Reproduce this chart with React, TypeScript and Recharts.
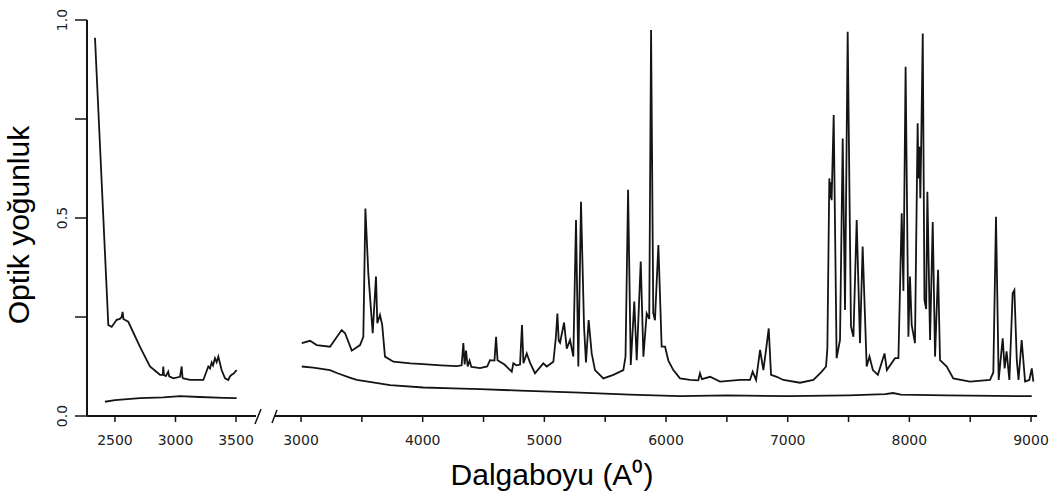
import { LineChart, Line, XAxis, YAxis } from 'recharts'

// left panel (2400-3500 A)
const leftUpperWl = [2335, 2445, 2473, 2514, 2540, 2555, 2563, 2570, 2580, 2610, 2706, 2789, 2872, 2895, 2899, 2905, 2921, 2940, 2948, 2982, 3037, 3051, 3058, 3065, 3120, 3230, 3271, 3285, 3299, 3310, 3326, 3340, 3354, 3381, 3409, 3436, 3450, 3464, 3480, 3505]
const leftUpperOd = [0.955, 0.23, 0.225, 0.243, 0.245, 0.25, 0.263, 0.245, 0.243, 0.238, 0.175, 0.125, 0.104, 0.104, 0.125, 0.103, 0.101, 0.112, 0.1, 0.095, 0.099, 0.125, 0.097, 0.095, 0.091, 0.091, 0.125, 0.12, 0.135, 0.128, 0.146, 0.136, 0.15, 0.116, 0.095, 0.091, 0.1, 0.104, 0.107, 0.116]
const leftLowerWl = [2417, 2500, 2706, 2900, 3037, 3200, 3400, 3505]
const leftLowerOd = [0.036, 0.04, 0.045, 0.047, 0.05, 0.048, 0.046, 0.045]

// right panel (3000-9000 A)
const rightUpperWl = [
  3006, 3074, 3129, 3238, 3334, 3362, 3417, 3485, 3512, 3529, 3553, 3589, 3616, 3627, 3649, 3667, 3690, 3759, 3900, 4005,
  4150, 4280, 4320, 4334, 4345, 4356, 4370, 4385, 4400, 4430, 4471, 4530, 4553, 4590, 4603, 4615, 4672, 4732, 4745, 4770,
  4800, 4816, 4828, 4855, 4882, 4923, 4991, 5019, 5074, 5095, 5107, 5118, 5129, 5162, 5184, 5211, 5238, 5260, 5279, 5301,
  5326, 5342, 5364, 5389, 5416, 5485, 5567, 5649, 5667, 5688, 5710, 5739, 5759, 5792, 5814, 5841, 5862, 5877, 5895, 5909,
  5937, 5964, 5992, 6019, 6060, 6115, 6197, 6265, 6279, 6295, 6362, 6444, 6608, 6690, 6712, 6740, 6773, 6800, 6822, 6844,
  6863, 6910, 6964, 7101, 7211, 7280, 7315, 7326, 7342, 7350, 7356, 7361, 7378, 7402, 7430, 7452, 7471, 7493, 7520, 7540,
  7567, 7594, 7616, 7649, 7672, 7700, 7741, 7796, 7815, 7882, 7910, 7937, 7951, 7969, 7992, 8005, 8019, 8046, 8068, 8075,
  8083, 8090, 8096, 8110, 8124, 8138, 8148, 8170, 8192, 8211, 8236, 8252, 8307, 8361, 8498, 8663, 8690, 8712, 8734, 8767,
  8783, 8799, 8822, 8849, 8863, 8883, 8897, 8923, 8951, 8986, 9006, 9019
]
const rightUpperOd = [
  0.184, 0.19, 0.179, 0.175, 0.217, 0.209, 0.165, 0.179, 0.2, 0.524, 0.36, 0.209, 0.352, 0.234, 0.255, 0.23, 0.15, 0.137, 0.133, 0.131,
  0.128, 0.126, 0.128, 0.184, 0.13, 0.165, 0.125, 0.14, 0.124, 0.123, 0.121, 0.125, 0.141, 0.14, 0.2, 0.141, 0.13, 0.112, 0.133, 0.128,
  0.13, 0.23, 0.133, 0.158, 0.135, 0.108, 0.133, 0.125, 0.137, 0.2, 0.259, 0.19, 0.185, 0.236, 0.17, 0.192, 0.15, 0.495, 0.125, 0.541,
  0.226, 0.135, 0.242, 0.158, 0.116, 0.095, 0.104, 0.116, 0.15, 0.571, 0.129, 0.289, 0.141, 0.39, 0.15, 0.259, 0.245, 0.975, 0.26, 0.242,
  0.432, 0.175, 0.175, 0.14, 0.116, 0.095, 0.091, 0.09, 0.108, 0.093, 0.099, 0.087, 0.091, 0.091, 0.112, 0.091, 0.167, 0.116, 0.167, 0.221,
  0.104, 0.099, 0.091, 0.084, 0.091, 0.112, 0.125, 0.17, 0.6, 0.55, 0.59, 0.545, 0.76, 0.146, 0.192, 0.701, 0.268, 0.97, 0.226, 0.2,
  0.495, 0.184, 0.428, 0.125, 0.15, 0.116, 0.104, 0.158, 0.116, 0.146, 0.146, 0.512, 0.316, 0.882, 0.2, 0.352, 0.23, 0.184, 0.739, 0.6,
  0.68, 0.55, 0.66, 0.966, 0.293, 0.27, 0.566, 0.192, 0.49, 0.15, 0.369, 0.141, 0.125, 0.095, 0.087, 0.091, 0.11, 0.503, 0.091, 0.196,
  0.12, 0.163, 0.091, 0.31, 0.318, 0.141, 0.091, 0.192, 0.087, 0.091, 0.12, 0.087
]
const rightLowerWl = [3006, 3100, 3238, 3300, 3400, 3458, 3550, 3732, 4005, 4250, 4471, 4800, 5293, 5700, 6115, 6500, 7000, 7500, 7800, 7866, 7930, 8300, 8700, 9006]
const rightLowerOd = [0.125, 0.122, 0.116, 0.108, 0.097, 0.091, 0.087, 0.078, 0.072, 0.07, 0.068, 0.064, 0.059, 0.054, 0.05, 0.052, 0.05, 0.052, 0.055, 0.058, 0.054, 0.052, 0.051, 0.05]

const leftTicks = [2500, 3000, 3500]
const rightTicks = [3000, 3500, 4000, 4500, 5000, 5500, 6000, 6500, 7000, 7500, 8000, 8500, 9000]
const yTicks = [0, 0.25, 0.5, 0.75, 1]
const yLabelled = [0, 0.5, 1]

const leftDomain = [2269, 3665]
const rightDomain = [2786, 9049]

const toPoints = (xs: number[], ys: number[]) => xs.map((x, i) => ({ x, y: ys[i] }))

const leftUpper = toPoints(leftUpperWl, leftUpperOd)
const leftLower = toPoints(leftLowerWl, leftLowerOd)
const rightUpper = toPoints(rightUpperWl, rightUpperOd)
const rightLower = toPoints(rightLowerWl, rightLowerOd)

const ink = '#141414'
const tickFont = { fontFamily: 'DejaVu Sans', fontSize: 14, fill: '#222' }
const axisStroke = { stroke: ink, strokeWidth: 2 }
const tickStroke = { stroke: ink, strokeWidth: 1.5 }

const YTick = (props: any) => {
  const { x, y, payload } = props
  const v = payload.value
  if (!yLabelled.includes(v)) return <g />
  return (
    <text x={x} y={y} transform={`rotate(-90 ${x} ${y})`} textAnchor="middle" dominantBaseline="central" {...tickFont}>
      {v.toFixed(1)}
    </text>
  )
}

const App = () => {
  return (
    <div style={{ position: 'absolute', left: 0, top: 0, width: 1062, height: 499, background: '#fff' }}>
      <div style={{ position: 'absolute', left: 0, top: 0 }}>
        <LineChart width={270} height={499} data={leftUpper} margin={{ top: 20, right: 14, bottom: 0, left: 0 }}>
          <XAxis
            dataKey="x"
            type="number"
            domain={leftDomain}
            ticks={leftTicks}
            height={83}
            tickSize={6}
            tickMargin={13}
            tick={tickFont}
            axisLine={axisStroke}
            tickLine={tickStroke}
          />
          <YAxis
            type="number"
            domain={[0, 1]}
            ticks={yTicks}
            width={87}
            tickSize={12}
            tickMargin={13}
            tick={<YTick />}
            axisLine={axisStroke}
            tickLine={tickStroke}
          />
          <Line data={leftUpper} dataKey="y" type="linear" stroke={ink} strokeWidth={1.8} dot={false} isAnimationActive={false} />
          <Line data={leftLower} dataKey="y" type="linear" stroke={ink} strokeWidth={1.8} dot={false} isAnimationActive={false} />
        </LineChart>
      </div>
      <div style={{ position: 'absolute', left: 0, top: 0 }}>
        <LineChart width={1062} height={499} data={rightUpper} margin={{ top: 20, right: 25, bottom: 0, left: 275 }}>
          <XAxis
            dataKey="x"
            type="number"
            domain={rightDomain}
            ticks={rightTicks}
            tickFormatter={(v: number) => (v % 1000 === 0 ? String(v) : '')}
            height={83}
            tickSize={6}
            tickMargin={13}
            tick={tickFont}
            axisLine={axisStroke}
            tickLine={tickStroke}
          />
          <YAxis hide type="number" domain={[0, 1]} />
          <Line data={rightUpper} dataKey="y" type="linear" stroke={ink} strokeWidth={1.8} dot={false} isAnimationActive={false} />
          <Line data={rightLower} dataKey="y" type="linear" stroke={ink} strokeWidth={1.8} dot={false} isAnimationActive={false} />
        </LineChart>
      </div>
      <svg width={1062} height={499} style={{ position: 'absolute', left: 0, top: 0, pointerEvents: 'none' }}>
        {/* axis break marks */}
        <line x1={255} y1={424} x2={261} y2={409} stroke={ink} strokeWidth={1.5} />
        <line x1={272} y1={423} x2={277} y2={410} stroke={ink} strokeWidth={1.5} />
        <text
          x={29}
          y={225}
          transform="rotate(-90 29 225)"
          textAnchor="middle"
          fontFamily="Liberation Sans"
          fontSize={30}
          fill="#000"
        >
          Optik yoğunluk
        </text>
        <text x={552} y={485} textAnchor="middle" fontFamily="Liberation Sans" fontSize={30} fill="#000">
          Dalgaboyu (A⁰)
        </text>
      </svg>
    </div>
  )
}

export default App
